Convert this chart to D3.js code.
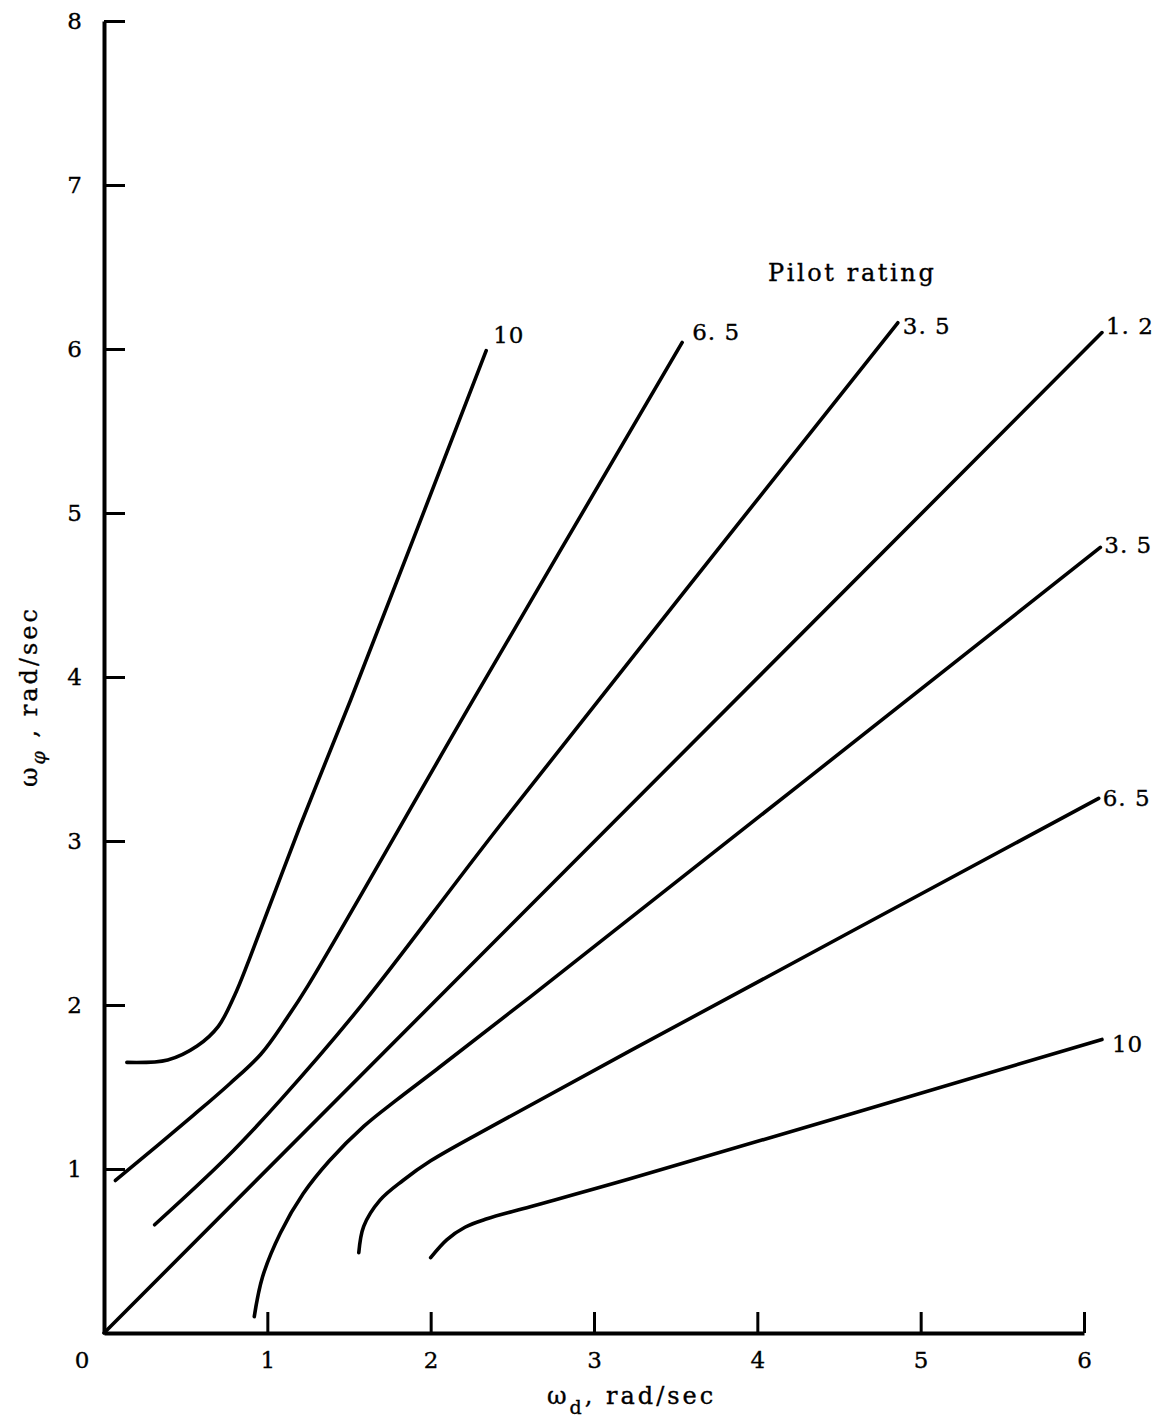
<!DOCTYPE html>
<html>
<head>
<meta charset="utf-8">
<script src="https://cdn.jsdelivr.net/npm/d3@7"></script>
<style>
  html, body { margin: 0; padding: 0; background: #fff; }
  svg { display: block; }
  text { font-family: "DejaVu Serif", "Liberation Serif", serif; fill: #000; stroke: #000; stroke-width: 0.35px; }
</style>
</head>
<body>
<svg id="chart" width="1165" height="1423"></svg>
<script>
// Pilot-rating boundaries in the (omega_d, omega_phi) plane, rad/sec.
const ratingLabels = ["10", "6. 5", "3. 5", "1. 2", "3. 5", "6. 5", "10"];

const curve10Upper = [[0.14,1.65],[0.39,1.665],[0.57,1.75],[0.70,1.87],[0.80,2.06],[0.89,2.28],[1.20,3.09],[1.51,3.86],[2.34,5.99]];
const curve65Upper = [[0.07,0.93],[0.55,1.33],[0.77,1.52],[0.96,1.70],[1.12,1.92],[1.25,2.12],[2.26,3.86],[3.54,6.04]];
const curve35Upper = [[0.31,0.66],[0.75,1.07],[1.08,1.42],[1.57,1.99],[2.42,3.09],[4.86,6.16]];
const curve12 = [[0,0],[6.11,6.10]];
const curve35Lower = [[0.92,0.10],[0.97,0.34],[1.08,0.61],[1.22,0.85],[1.38,1.05],[1.59,1.26],[1.79,1.42],[2.04,1.61],[2.61,2.05],[6.10,4.79]];
const curve65Lower = [[1.56,0.49],[1.59,0.65],[1.69,0.81],[1.83,0.93],[2.00,1.05],[2.41,1.28],[3.22,1.72],[6.09,3.26]];
const curve10Lower = [[2.00,0.46],[2.10,0.57],[2.21,0.645],[2.34,0.695],[2.61,0.77],[3.22,0.94],[6.11,1.79]];

const xTicks = [1, 2, 3, 4, 5, 6];
const yTicks = [1, 2, 3, 4, 5, 6, 7, 8];

const curves = [curve10Upper, curve65Upper, curve35Upper, curve12, curve35Lower, curve65Lower, curve10Lower];

// label placement relative to each curve's final point (pixels)
const labelOffsets = [[7, -16], [10, -10], [5, 3], [4, -7], [4, -2], [4, 0], [10, 5]];

const svg = d3.select("#chart");
const x = d3.scaleLinear().domain([0, 6]).range([104, 1084]);
const y = d3.scaleLinear().domain([0, 8]).range([1333, 21]);

// axes with inward ticks
const xAxis = d3.axisBottom(x).tickValues(xTicks).tickFormat(d3.format("d"))
  .tickSize(-21).tickSizeOuter(0).tickPadding(19);
const yAxis = d3.axisLeft(y).tickValues(yTicks).tickFormat(d3.format("d"))
  .tickSize(-21).tickSizeOuter(0).tickPadding(22);

const gx = svg.append("g").attr("transform", `translate(0,${y(0)})`).call(xAxis);
const gy = svg.append("g").attr("transform", `translate(${x(0)},0)`).call(yAxis);

[gx, gy].forEach(g => {
  g.select(".domain").attr("stroke", "#000").attr("stroke-width", 4);
  g.selectAll(".tick line").attr("stroke", "#000").attr("stroke-width", 3);
  g.selectAll(".tick text").attr("font-size", 23).attr("font-family", "DejaVu Serif").attr("fill", "#000");
});

// origin label shared by both axes
svg.append("text")
  .attr("x", x(0) - 22).attr("y", y(0) + 19).attr("dy", "0.71em")
  .attr("text-anchor", "middle").attr("font-size", 23)
  .text("0");

// curves
const line = d3.line().x(d => x(d[0])).y(d => y(d[1])).curve(d3.curveCatmullRom.alpha(0.5));

svg.append("g").selectAll("path").data(curves).join("path")
  .attr("d", line)
  .attr("fill", "none")
  .attr("stroke", "#000")
  .attr("stroke-width", 3.6)
  .attr("stroke-linecap", "round")
  .attr("stroke-linejoin", "round");

// curve end labels
svg.append("g").selectAll("text").data(curves).join("text")
  .attr("x", (d, i) => x(d[d.length - 1][0]) + labelOffsets[i][0])
  .attr("y", (d, i) => y(d[d.length - 1][1]) + labelOffsets[i][1])
  .attr("dy", "0.35em")
  .attr("font-size", 23)
  .attr("letter-spacing", 1)
  .style("white-space", "pre")
  .text((d, i) => ratingLabels[i]);

svg.append("text")
  .attr("x", 768).attr("y", 281)
  .attr("font-size", 24)
  .attr("letter-spacing", 2.6)
  .text("Pilot rating");

// x-axis title
const xt = svg.append("text")
  .attr("x", 547).attr("y", 1404)
  .attr("font-size", 24)
  .attr("letter-spacing", 3)
  .style("white-space", "pre");
xt.append("tspan").text("ω");
xt.append("tspan").attr("font-size", 19).attr("dy", 10).text("d");
xt.append("tspan").attr("dy", -10).text(", rad/sec");

// y-axis title
const yt = svg.append("text")
  .attr("transform", "translate(37,787) rotate(-90)")
  .attr("font-size", 24)
  .attr("letter-spacing", 3)
  .style("white-space", "pre");
yt.append("tspan").text("ω");
yt.append("tspan").attr("font-size", 19).attr("dy", 8).attr("font-style", "italic").text("φ");
yt.append("tspan").attr("dy", -8).text(" , rad/sec");
</script>
</body>
</html>
